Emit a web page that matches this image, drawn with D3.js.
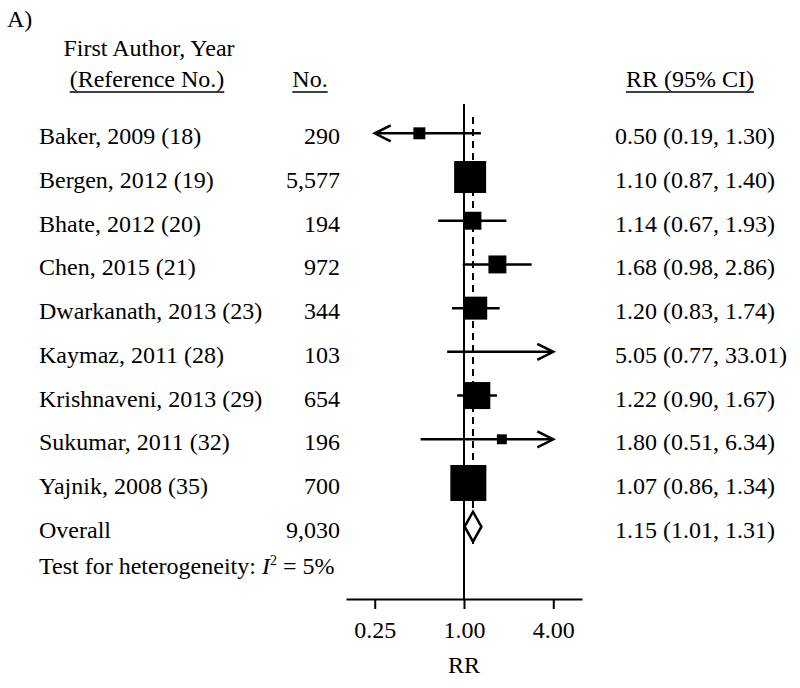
<!DOCTYPE html>
<html><head><meta charset="utf-8">
<script src="https://cdn.jsdelivr.net/npm/d3@7"></script>
<style>body{margin:0;background:#fff}svg{display:block}text{font-family:"Liberation Serif","Times New Roman",serif;fill:#000}</style>
</head><body>
<svg id="c" width="800" height="688"></svg>
<script>
const studies = ["Baker, 2009 (18)","Bergen, 2012 (19)","Bhate, 2012 (20)","Chen, 2015 (21)","Dwarkanath, 2013 (23)","Kaymaz, 2011 (28)","Krishnaveni, 2013 (29)","Sukumar, 2011 (32)","Yajnik, 2008 (35)"];
const nLabels = ["290","5,577","194","972","344","103","654","196","700"];
const rr = [0.50,1.10,1.14,1.68,1.20,5.05,1.22,1.80,1.07];
const lo = [0.19,0.87,0.67,0.98,0.83,0.77,0.90,0.51,0.86];
const hi = [1.30,1.40,1.93,2.86,1.74,33.01,1.67,6.34,1.34];
const weights = [3.2,22.9,7.2,7.2,11.8,1.5,16.3,2.2,29.0];
const overall = {label:"Overall", n:"9,030", rr:1.15, lo:1.01, hi:1.31};
const tickValues = [0.25,1,4];
const tickLabels = ["0.25","1.00","4.00"];

const svg = d3.select("#c");
const FS = 24;
const x = d3.scaleLog().base(2).domain([0.16,6.25]).range([346,582]);
const rows = studies.concat([overall.label]);
const y = d3.scalePoint().domain(rows).range([133.3,526.7]);
const side = d3.scaleSqrt().domain([0,29]).range([0,36]);
const clipLo = 0.25, clipHi = 4;

// panel label
svg.append("text").attr("x",7).attr("y",27).attr("font-size",FS).text("A)");

// headers
function uText(xp, yp, anchor, t){
  const el = svg.append("text").attr("x",xp).attr("y",yp).attr("font-size",FS).attr("text-anchor",anchor).text(t);
  const b = el.node().getBBox();
  svg.append("line").attr("x1",b.x).attr("x2",b.x+b.width).attr("y1",yp+5).attr("y2",yp+5).attr("stroke","#000").attr("stroke-width",1.3);
}
svg.append("text").attr("x",149).attr("y",56).attr("font-size",FS).attr("text-anchor","middle").text("First Author, Year");
uText(147,87,"middle","(Reference No.)");
uText(310,87,"middle","No.");
uText(690,87,"middle","RR (95% CI)");

// reference lines
svg.append("line").attr("x1",x(1)).attr("x2",x(1)).attr("y1",104).attr("y2",599).attr("stroke","#000").attr("stroke-width",2);
svg.append("line").attr("x1",x(overall.rr)).attr("x2",x(overall.rr)).attr("y1",117).attr("y2",547).attr("stroke","#000").attr("stroke-width",2).attr("stroke-dasharray","7,5");

// axis
const axis = d3.axisBottom(x).tickValues(tickValues).tickFormat((d,i)=>tickLabels[i]).tickSize(10).tickSizeOuter(0).tickPadding(12);
const ag = svg.append("g").attr("transform","translate(0,599)").call(axis);
ag.select(".domain").attr("stroke","#000").attr("stroke-width",2);
ag.selectAll(".tick line").attr("stroke","#000").attr("stroke-width",2);
ag.selectAll(".tick text").attr("font-size",FS).attr("font-family","Liberation Serif").attr("fill","#000").attr("dy","0.71em");
svg.append("text").attr("x",x(1)).attr("y",673).attr("font-size",FS).attr("text-anchor","middle").text("RR");

// study rows
const data = studies.map((s,i)=>({s, n:nLabels[i], rr:rr[i], lo:lo[i], hi:hi[i], w:weights[i]}));
const fmt = d3.format(".2f");
const g = svg.append("g");
data.forEach(d=>{
  const yc = y(d.s);
  g.append("text").attr("x",39).attr("y",yc+11).attr("font-size",FS).text(d.s);
  g.append("text").attr("x",340).attr("y",yc+11).attr("font-size",FS).attr("text-anchor","end").text(d.n);
  g.append("text").attr("x",615).attr("y",yc+11).attr("font-size",FS).text(`${fmt(d.rr)} (${fmt(d.lo)}, ${fmt(d.hi)})`);
  const a = Math.max(d.lo,clipLo), b = Math.min(d.hi,clipHi);
  g.append("line").attr("x1",x(a)).attr("x2",x(b)).attr("y1",yc).attr("y2",yc).attr("stroke","#000").attr("stroke-width",2.5);
  if(d.lo<clipLo){
    const t=x(clipLo);
    g.append("path").attr("d",`M${t+16},${yc-8}L${t},${yc}L${t+16},${yc+8}`).attr("fill","none").attr("stroke","#000").attr("stroke-width",2.5);
  }
  if(d.hi>clipHi){
    const t=x(clipHi);
    g.append("path").attr("d",`M${t-16},${yc-8}L${t},${yc}L${t-16},${yc+8}`).attr("fill","none").attr("stroke","#000").attr("stroke-width",2.5);
  }
  if(d.rr>=clipLo && d.rr<=clipHi){
    const s = side(d.w);
    g.append("rect").attr("x",x(d.rr)-s/2).attr("y",yc-s/2).attr("width",s).attr("height",s).attr("fill","#000");
  }
});

// overall
const yo = y(overall.label);
svg.append("text").attr("x",39).attr("y",yo+11).attr("font-size",FS).text(overall.label);
svg.append("text").attr("x",340).attr("y",yo+11).attr("font-size",FS).attr("text-anchor","end").text(overall.n);
svg.append("text").attr("x",615).attr("y",yo+11).attr("font-size",FS).text(`${fmt(overall.rr)} (${fmt(overall.lo)}, ${fmt(overall.hi)})`);
svg.append("path").attr("d",`M${x(overall.lo)},${yo}L${x(overall.rr)},${yo-15}L${x(overall.hi)},${yo}L${x(overall.rr)},${yo+15}Z`)
  .attr("fill","#fff").attr("stroke","#000").attr("stroke-width",2.5);

// heterogeneity
const ht = svg.append("text").attr("x",39).attr("y",yo+47).attr("font-size",FS);
ht.append("tspan").text("Test for heterogeneity: ");
ht.append("tspan").attr("font-style","italic").text("I");
ht.append("tspan").attr("font-size",14).attr("dy",-9).text("2");
ht.append("tspan").attr("dy",9).text(" = 5%");
</script>
</body></html>
